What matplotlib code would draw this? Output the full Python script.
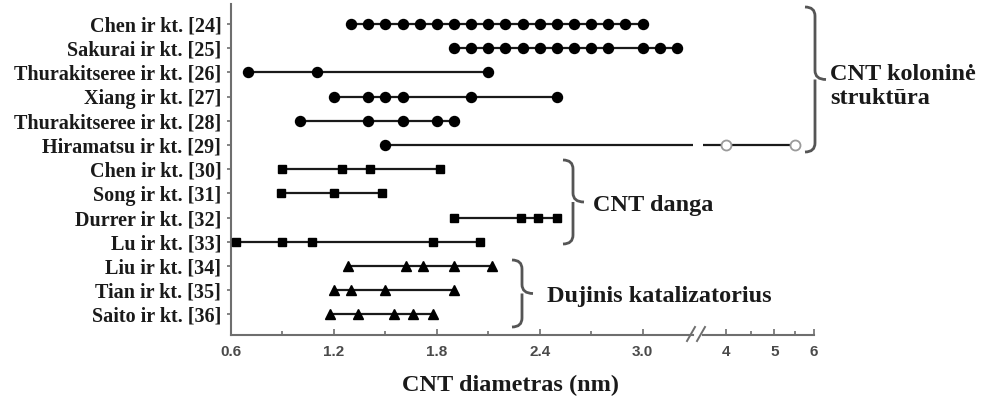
import matplotlib.pyplot as plt
from matplotlib.path import Path
from matplotlib.patches import PathPatch

# studies, top to bottom
studies = ["Chen ir kt. [24]", "Sakurai ir kt. [25]", "Thurakitseree ir kt. [26]",
           "Xiang ir kt. [27]", "Thurakitseree ir kt. [28]", "Hiramatsu ir kt. [29]",
           "Chen ir kt. [30]", "Song ir kt. [31]", "Durrer ir kt. [32]",
           "Lu ir kt. [33]", "Liu ir kt. [34]", "Tian ir kt. [35]", "Saito ir kt. [36]"]

# reported CNT diameters (nm) per study
diameters = [
    [1.3, 1.4, 1.5, 1.6, 1.7, 1.8, 1.9, 2.0, 2.1, 2.2, 2.3, 2.4, 2.5, 2.6, 2.7, 2.8, 2.9, 3.0],
    [1.9, 2.0, 2.1, 2.2, 2.3, 2.4, 2.5, 2.6, 2.7, 2.8, 3.0, 3.1, 3.2],
    [0.7, 1.1, 2.1],
    [1.2, 1.4, 1.5, 1.6, 2.0, 2.5],
    [1.0, 1.4, 1.6, 1.8, 1.9],
    [1.5, 4.0, 5.5],
    [0.9, 1.25, 1.41, 1.82],
    [0.89, 1.2, 1.48],
    [1.9, 2.29, 2.39, 2.5],
    [0.63, 0.9, 1.07, 1.78, 2.05],
    [1.28, 1.62, 1.72, 1.9, 2.12],
    [1.2, 1.3, 1.5, 1.9],
    [1.18, 1.34, 1.55, 1.66, 1.78],
]
# growth method of each study -> marker
methods = ["column"] * 6 + ["coating"] * 4 + ["gas"] * 3
marker_of = {"column": ("o", 7.2), "coating": ("s", 6), "gas": ("^", 7)}

x_break = 3.4
left_ticks = [0.6, 1.2, 1.8, 2.4, 3.0]
left_minor = [0.9, 1.5, 2.1, 2.7]
right_ticks = [4, 5, 6]
right_minor = [4.5, 5.5]

W, H = 1001, 396
fig = plt.figure(figsize=(W / 100, H / 100), dpi=100)


def px_axes(x0, x1, y0, y1):
    return fig.add_axes([x0 / W, 1 - y1 / H, (x1 - x0) / W, (y1 - y0) / H])


ax_l = px_axes(231, 693, 4, 335)
ax_r = px_axes(703, 814, 4, 335)

ink = "#1a1a1a"
axis_gray = "#6e6e6e"
serif = "Liberation Serif"

for ax in (ax_l, ax_r):
    for i, vals in enumerate(diameters):
        m, ms = marker_of[methods[i]]
        ax.plot(vals, [i] * len(vals), color=ink, lw=1.6, zorder=2)
        filled = [v for v in vals if v < x_break]
        hollow = [v for v in vals if v >= x_break]
        ax.plot(filled, [i] * len(filled), ls="none", marker=m, ms=ms,
                color="black", zorder=3)
        ax.plot(hollow, [i] * len(hollow), ls="none", marker=m, ms=ms,
                mfc="white", mec="#9a9a9a", mew=1.3, zorder=3)
    ax.set_ylim(12.85, -0.83)
    for s in ("top", "right"):
        ax.spines[s].set_visible(False)
    for s in ("left", "bottom"):
        ax.spines[s].set_color(axis_gray)
        ax.spines[s].set_linewidth(1.5)
    ax.tick_params(axis="x", which="both", direction="in", color=axis_gray,
                   width=1.2, pad=7, labelsize=11, labelcolor="#4a4a4a")
    ax.tick_params(axis="x", which="major", length=4)
    ax.tick_params(axis="x", which="minor", length=3)

ax_l.set_xlim(0.6, 0.6 + 462 / 171.5)
ax_l.set_xticks(left_ticks)
ax_l.set_xticks(left_minor, minor=True)
ax_l.set_xticklabels([f"{t:.1f}" for t in left_ticks], fontweight="bold",
                     family="Liberation Sans")
ax_l.set_yticks(range(len(studies)))
ax_l.set_yticklabels(studies, fontsize=14.5, fontweight="bold", family=serif, color=ink)
ax_l.tick_params(axis="y", direction="out", length=3, width=1.2, color=axis_gray, pad=4)

ax_r.set_xscale("log")
ax_r.set_xlim(3.6, 6)
ax_r.set_xticks(right_ticks)
ax_r.set_xticks(right_minor, minor=True)
ax_r.set_xticklabels([str(t) for t in right_ticks], fontweight="bold",
                     family="Liberation Sans")
ax_r.xaxis.set_minor_formatter(plt.NullFormatter())
ax_r.spines["left"].set_visible(False)
ax_r.set_yticks([])

# overlay in pixel coordinates for braces, break marks and labels
ov = fig.add_axes([0, 0, 1, 1])
ov.set_xlim(0, W)
ov.set_ylim(H, 0)
ov.axis("off")

for x in (687, 697):
    ov.plot([x, x + 8], [341, 327], color=axis_gray, lw=1.4)


def brace(x_end, x_stem, x_tip, y_top, y_bot, r=9):
    yc = (y_top + y_bot) / 2
    verts = [(x_end, y_top), (x_stem, y_top), (x_stem, y_top + r),
             (x_stem, yc - r), (x_stem, yc), (x_tip, yc),
             (x_stem, yc), (x_stem, yc + r),
             (x_stem, y_bot - r), (x_stem, y_bot), (x_end, y_bot)]
    codes = [Path.MOVETO, Path.CURVE3, Path.CURVE3,
             Path.LINETO, Path.CURVE3, Path.CURVE3,
             Path.MOVETO, Path.CURVE3,
             Path.LINETO, Path.CURVE3, Path.CURVE3]
    ov.add_patch(PathPatch(Path(verts, codes), fc="none", ec="#555555", lw=2))


brace(805, 815, 826, 7, 152)
brace(563, 573, 584, 160, 244)
brace(512, 522, 533, 260, 327)

text_kw = dict(fontsize=17.5, fontweight="bold", family=serif, color=ink)
ov.text(830, 80, "CNT koloninė", va="baseline", **text_kw)
ov.text(830, 104, "struktūra", va="baseline", **text_kw)
ov.text(593, 211, "CNT danga", va="baseline", **text_kw)
ov.text(547, 302, "Dujinis katalizatorius", va="baseline", **text_kw)
ov.text(511, 391, "CNT diametras (nm)", ha="center", va="baseline", **text_kw)

fig.savefig("out.png", dpi=100)
